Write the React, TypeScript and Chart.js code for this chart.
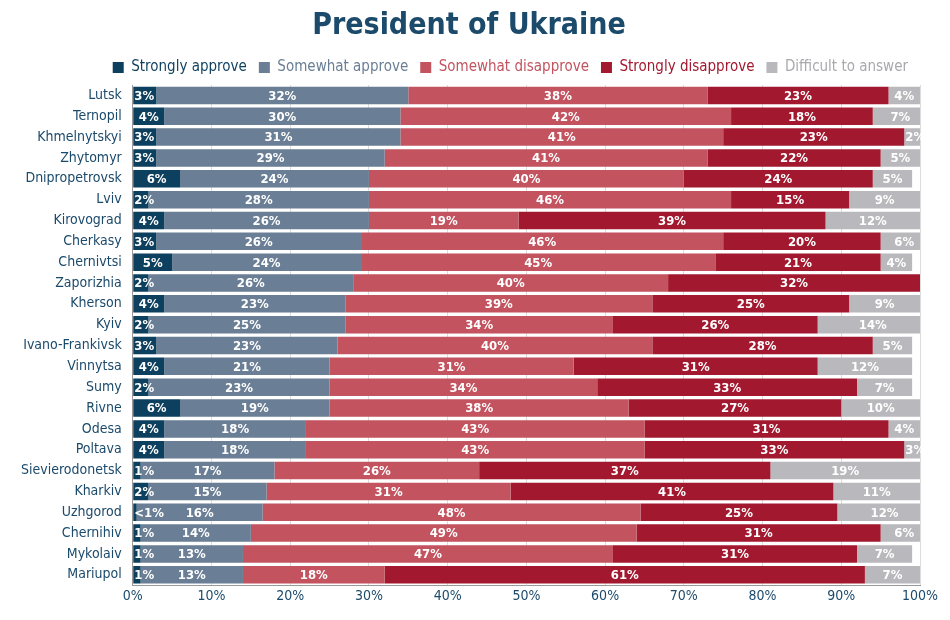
import React, { useEffect, useRef } from "react";
import { Chart, registerables } from "chart.js";
Chart.register(...registerables);

const cities = ["Lutsk","Ternopil","Khmelnytskyi","Zhytomyr","Dnipropetrovsk","Lviv","Kirovograd","Cherkasy","Chernivtsi","Zaporizhia","Kherson","Kyiv","Ivano-Frankivsk","Vinnytsa","Sumy","Rivne","Odesa","Poltava","Sievierodonetsk","Kharkiv","Uzhgorod","Chernihiv","Mykolaiv","Mariupol"];
const stronglyApprove = [3,4,3,3,6,2,4,3,5,2,4,2,3,4,2,6,4,4,1,2,0.5,1,1,1];
const somewhatApprove = [32,30,31,29,24,28,26,26,24,26,23,25,23,21,23,19,18,18,17,15,16,14,13,13];
const somewhatDisapprove = [38,42,41,41,40,46,19,46,45,40,39,34,40,31,34,38,43,43,26,31,48,49,47,18];
const stronglyDisapprove = [23,18,23,22,24,15,39,20,21,32,25,26,28,31,33,27,31,33,37,41,25,31,31,61];
const difficult = [4,7,2,5,5,9,12,6,4,0,9,14,5,12,7,10,4,3,19,11,12,6,7,7];
const seriesNames = ["Strongly approve","Somewhat approve","Somewhat disapprove","Strongly disapprove","Difficult to answer"];
const colors = ["#0d3f5e","#6a7e95","#c2535f","#a2192f","#b9b9bd"];
const textColors = ["#0d3f5e","#6a7e95","#c2535f","#a2192f","#a9a9ad"];
const FONT = "'DejaVu Sans Condensed', 'DejaVu Sans'";

const labelPlugin = {
  id: "segLabels",
  afterDatasetsDraw(chart: any) {
    const ctx = chart.ctx;
    ctx.save();
    ctx.font = "bold 13px " + FONT;
    ctx.fillStyle = "#fff";
    ctx.textBaseline = "middle";
    chart.data.datasets.forEach((ds: any, di: number) => {
      const meta = chart.getDatasetMeta(di);
      meta.data.forEach((bar: any, i: number) => {
        const v = ds.data[i];
        if (!v) return;
        const txt = v < 1 ? "<1%" : v + "%";
        const left = Math.min(bar.base, bar.x), w = Math.abs(bar.x - bar.base);
        let x = left + w / 2;
        ctx.textAlign = "center";
        if (w < 28) { ctx.textAlign = "left"; x = left + 1; }
        ctx.fillText(txt, x, bar.y + 1);
      });
    });
    ctx.restore();
  },
};

export default function App() {
  const ref = useRef<HTMLCanvasElement>(null);
  useEffect(() => {
    const data = [stronglyApprove, somewhatApprove, somewhatDisapprove, stronglyDisapprove, difficult];
    const chart = new Chart(ref.current!, {
      type: "bar",
      data: {
        labels: cities,
        datasets: data.map((d, i) => ({
          label: seriesNames[i], data: d, backgroundColor: colors[i],
          categoryPercentage: 1, barPercentage: 0.84,
        })),
      },
      options: {
        indexAxis: "y", animation: false, responsive: false,
        layout: { padding: { right: 22, left: 10, bottom: 4 } },
        plugins: {
          title: { display: true, text: "President of Ukraine", color: "#1b4a6b",
            font: { size: 30, weight: "bold", family: FONT }, padding: { top: 0, bottom: 4 } },
          legend: { position: "top", align: "end",
            labels: { boxWidth: 11, boxHeight: 11, padding: 12,
              font: { size: 15, family: FONT },
              generateLabels: (c: any) => c.data.datasets.map((ds: any, i: number) => ({
                text: ds.label, fillStyle: colors[i], strokeStyle: colors[i], lineWidth: 0,
                fontColor: textColors[i], datasetIndex: i, hidden: false })) } },
          tooltip: { enabled: false },
        },
        scales: {
          x: { stacked: true, min: 0, max: 100,
            ticks: { stepSize: 10, callback: (v: any) => v + "%", color: "#1b4a6b",
              font: { size: 14, family: FONT } },
            grid: { color: "#dcdcdc", drawTicks: false }, border: { color: "#999" } },
          y: { stacked: true,
            ticks: { color: "#1b4a6b", autoSkip: false, font: { size: 14, family: FONT } },
            grid: { display: false }, border: { color: "#999" } },
        },
      } as any,
      plugins: [labelPlugin],
    });
    return () => chart.destroy();
  }, []);
  return <canvas ref={ref} width={934} height={604} />;
}
